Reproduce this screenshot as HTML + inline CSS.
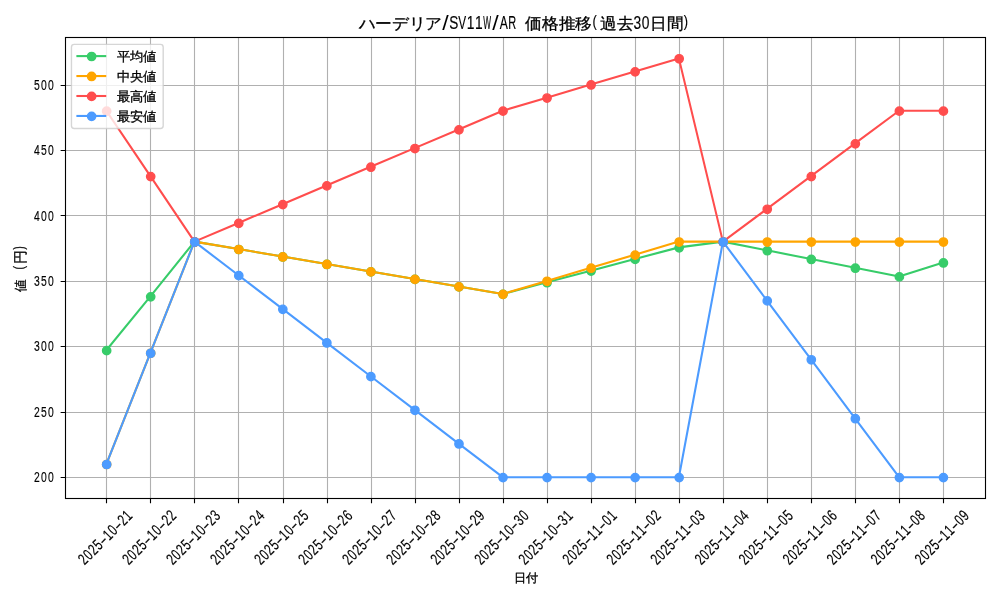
<!DOCTYPE html>
<html><head><meta charset="utf-8"><title>ハーデリア/SV11W/AR 価格推移(過去30日間)</title><style>
html,body{margin:0;padding:0;background:#fff;width:1000px;height:600px;overflow:hidden}
svg{display:block;will-change:transform}
text{font-family:"Liberation Sans",sans-serif;fill:#000;white-space:pre}
.g{stroke:#b0b0b0;stroke-width:1.111;fill:none}
.k{stroke:#000;stroke-width:1.111;fill:none}
.cj{stroke:#000;stroke-width:0.3px}
.la{stroke:#000;stroke-width:0.15px}
</style></head><body>
<svg width="1000" height="600" viewBox="0 0 1000 600">
<rect width="1000" height="600" fill="#fff"/>
<path class="g" d="M106.5 37.50V498.50M150.5 37.50V498.50M194.5 37.50V498.50M238.5 37.50V498.50M283.5 37.50V498.50M327.5 37.50V498.50M371.5 37.50V498.50M415.5 37.50V498.50M459.5 37.50V498.50M503.5 37.50V498.50M547.5 37.50V498.50M591.5 37.50V498.50M635.5 37.50V498.50M679.5 37.50V498.50M723.5 37.50V498.50M767.5 37.50V498.50M811.5 37.50V498.50M855.5 37.50V498.50M899.5 37.50V498.50M943.5 37.50V498.50M65.50 477.5H985.50M65.50 412.5H985.50M65.50 346.5H985.50M65.50 281.5H985.50M65.50 215.5H985.50M65.50 150.5H985.50M65.50 85.5H985.50"/>
<path class="k" d="M106.5 498.50v4.861M150.5 498.50v4.861M194.5 498.50v4.861M238.5 498.50v4.861M283.5 498.50v4.861M327.5 498.50v4.861M371.5 498.50v4.861M415.5 498.50v4.861M459.5 498.50v4.861M503.5 498.50v4.861M547.5 498.50v4.861M591.5 498.50v4.861M635.5 498.50v4.861M679.5 498.50v4.861M723.5 498.50v4.861M767.5 498.50v4.861M811.5 498.50v4.861M855.5 498.50v4.861M899.5 498.50v4.861M943.5 498.50v4.861M65.50 477.5h-4.861M65.50 412.5h-4.861M65.50 346.5h-4.861M65.50 281.5h-4.861M65.50 215.5h-4.861M65.50 150.5h-4.861M65.50 85.5h-4.861"/>
<g clip-path="none">
<polyline points="106.36,350.25 150.40,296.45 194.44,241.62 238.48,249.09 282.52,256.57 326.56,264.05 370.60,271.53 414.64,279.01 458.68,286.49 502.72,293.97 546.76,282.32 590.80,270.67 634.84,259.02 678.88,247.37 722.92,241.62 766.96,250.35 811.00,259.06 855.04,267.79 899.08,276.52 943.12,262.56" fill="none" stroke="#37cc69" stroke-width="2.083" stroke-linejoin="round" stroke-linecap="square"/>
<g fill="#37cc69" stroke="#37cc69" stroke-width="1.389"><circle cx="106.66" cy="350.65" r="4.167"/><circle cx="150.70" cy="296.85" r="4.167"/><circle cx="194.74" cy="242.02" r="4.167"/><circle cx="238.78" cy="249.49" r="4.167"/><circle cx="282.82" cy="256.97" r="4.167"/><circle cx="326.86" cy="264.45" r="4.167"/><circle cx="370.90" cy="271.93" r="4.167"/><circle cx="414.94" cy="279.41" r="4.167"/><circle cx="458.98" cy="286.89" r="4.167"/><circle cx="503.02" cy="294.37" r="4.167"/><circle cx="547.06" cy="282.72" r="4.167"/><circle cx="591.10" cy="271.07" r="4.167"/><circle cx="635.14" cy="259.42" r="4.167"/><circle cx="679.18" cy="247.77" r="4.167"/><circle cx="723.22" cy="242.02" r="4.167"/><circle cx="767.26" cy="250.75" r="4.167"/><circle cx="811.30" cy="259.46" r="4.167"/><circle cx="855.34" cy="268.19" r="4.167"/><circle cx="899.38" cy="276.92" r="4.167"/><circle cx="943.42" cy="262.96" r="4.167"/></g>
<polyline points="106.36,464.11 150.40,352.86 194.44,241.62 238.48,249.09 282.52,256.57 326.56,264.05 370.60,271.53 414.64,279.01 458.68,286.49 502.72,293.97 546.76,280.88 590.80,267.79 634.84,254.70 678.88,241.62 722.92,241.62 766.96,241.62 811.00,241.62 855.04,241.62 899.08,241.62 943.12,241.62" fill="none" stroke="#ffa500" stroke-width="2.083" stroke-linejoin="round" stroke-linecap="square"/>
<g fill="#ffa500" stroke="#ffa500" stroke-width="1.389"><circle cx="106.66" cy="464.51" r="4.167"/><circle cx="150.70" cy="353.26" r="4.167"/><circle cx="194.74" cy="242.02" r="4.167"/><circle cx="238.78" cy="249.49" r="4.167"/><circle cx="282.82" cy="256.97" r="4.167"/><circle cx="326.86" cy="264.45" r="4.167"/><circle cx="370.90" cy="271.93" r="4.167"/><circle cx="414.94" cy="279.41" r="4.167"/><circle cx="458.98" cy="286.89" r="4.167"/><circle cx="503.02" cy="294.37" r="4.167"/><circle cx="547.06" cy="281.28" r="4.167"/><circle cx="591.10" cy="268.19" r="4.167"/><circle cx="635.14" cy="255.10" r="4.167"/><circle cx="679.18" cy="242.02" r="4.167"/><circle cx="723.22" cy="242.02" r="4.167"/><circle cx="767.26" cy="242.02" r="4.167"/><circle cx="811.30" cy="242.02" r="4.167"/><circle cx="855.34" cy="242.02" r="4.167"/><circle cx="899.38" cy="242.02" r="4.167"/><circle cx="943.42" cy="242.02" r="4.167"/></g>
<polyline points="106.36,110.74 150.40,176.18 194.44,241.62 238.48,222.92 282.52,204.22 326.56,185.52 370.60,166.83 414.64,148.13 458.68,129.43 502.72,110.74 546.76,97.65 590.80,84.56 634.84,71.47 678.88,58.38 722.92,241.62 766.96,208.90 811.00,176.18 855.04,143.46 899.08,110.74 943.12,110.74" fill="none" stroke="#ff4d4d" stroke-width="2.083" stroke-linejoin="round" stroke-linecap="square"/>
<g fill="#ff4d4d" stroke="#ff4d4d" stroke-width="1.389"><circle cx="106.66" cy="111.14" r="4.167"/><circle cx="150.70" cy="176.58" r="4.167"/><circle cx="194.74" cy="242.02" r="4.167"/><circle cx="238.78" cy="223.32" r="4.167"/><circle cx="282.82" cy="204.62" r="4.167"/><circle cx="326.86" cy="185.92" r="4.167"/><circle cx="370.90" cy="167.23" r="4.167"/><circle cx="414.94" cy="148.53" r="4.167"/><circle cx="458.98" cy="129.83" r="4.167"/><circle cx="503.02" cy="111.14" r="4.167"/><circle cx="547.06" cy="98.05" r="4.167"/><circle cx="591.10" cy="84.96" r="4.167"/><circle cx="635.14" cy="71.87" r="4.167"/><circle cx="679.18" cy="58.78" r="4.167"/><circle cx="723.22" cy="242.02" r="4.167"/><circle cx="767.26" cy="209.30" r="4.167"/><circle cx="811.30" cy="176.58" r="4.167"/><circle cx="855.34" cy="143.86" r="4.167"/><circle cx="899.38" cy="111.14" r="4.167"/><circle cx="943.42" cy="111.14" r="4.167"/></g>
<polyline points="106.36,464.11 150.40,352.86 194.44,241.62 238.48,275.27 282.52,308.93 326.56,342.58 370.60,376.24 414.64,409.89 458.68,443.55 502.72,477.20 546.76,477.20 590.80,477.20 634.84,477.20 678.88,477.20 722.92,241.62 766.96,300.51 811.00,359.41 855.04,418.30 899.08,477.20 943.12,477.20" fill="none" stroke="#4c9bff" stroke-width="2.083" stroke-linejoin="round" stroke-linecap="square"/>
<g fill="#4c9bff" stroke="#4c9bff" stroke-width="1.389"><circle cx="106.66" cy="464.51" r="4.167"/><circle cx="150.70" cy="353.26" r="4.167"/><circle cx="194.74" cy="242.02" r="4.167"/><circle cx="238.78" cy="275.67" r="4.167"/><circle cx="282.82" cy="309.33" r="4.167"/><circle cx="326.86" cy="342.98" r="4.167"/><circle cx="370.90" cy="376.64" r="4.167"/><circle cx="414.94" cy="410.29" r="4.167"/><circle cx="458.98" cy="443.95" r="4.167"/><circle cx="503.02" cy="477.60" r="4.167"/><circle cx="547.06" cy="477.60" r="4.167"/><circle cx="591.10" cy="477.60" r="4.167"/><circle cx="635.14" cy="477.60" r="4.167"/><circle cx="679.18" cy="477.60" r="4.167"/><circle cx="723.22" cy="242.02" r="4.167"/><circle cx="767.26" cy="300.91" r="4.167"/><circle cx="811.30" cy="359.81" r="4.167"/><circle cx="855.34" cy="418.70" r="4.167"/><circle cx="899.38" cy="477.60" r="4.167"/><circle cx="943.42" cy="477.60" r="4.167"/></g>
</g>
<rect class="k" x="65.50" y="37.50" width="920.00" height="461.00" stroke-linecap="square"/>
<rect x="71.46" y="44.39" width="91.74" height="84.11" rx="2.78" ry="2.78" fill="#fff" fill-opacity="0.8" stroke="#ccc" stroke-opacity="0.8" stroke-width="1.389"/>
<path d="M77.42 56.10H105.20" stroke="#37cc69" stroke-width="2.083" stroke-linecap="square"/><circle cx="91.61" cy="56.50" r="4.167" fill="#37cc69" stroke="#37cc69" stroke-width="1.389"/>
<text x="116.70" y="61.10" font-size="13.30" textLength="39.90" lengthAdjust="spacingAndGlyphs" class="cj">平均値</text>
<path d="M77.42 76.05H105.20" stroke="#ffa500" stroke-width="2.083" stroke-linecap="square"/><circle cx="91.61" cy="76.45" r="4.167" fill="#ffa500" stroke="#ffa500" stroke-width="1.389"/>
<text x="116.70" y="81.05" font-size="13.30" textLength="39.90" lengthAdjust="spacingAndGlyphs" class="cj">中央値</text>
<path d="M77.42 96.00H105.20" stroke="#ff4d4d" stroke-width="2.083" stroke-linecap="square"/><circle cx="91.61" cy="96.40" r="4.167" fill="#ff4d4d" stroke="#ff4d4d" stroke-width="1.389"/>
<text x="116.70" y="101.00" font-size="13.30" textLength="39.90" lengthAdjust="spacingAndGlyphs" class="cj">最高値</text>
<path d="M77.42 115.95H105.20" stroke="#4c9bff" stroke-width="2.083" stroke-linecap="square"/><circle cx="91.61" cy="116.35" r="4.167" fill="#4c9bff" stroke="#4c9bff" stroke-width="1.389"/>
<text x="116.70" y="120.95" font-size="13.30" textLength="39.90" lengthAdjust="spacingAndGlyphs" class="cj">最安値</text>
<text transform="scale(0.6700,1)" x="50.82 61.19 71.55" y="482.30" font-size="15.50" class="la">200</text>
<text transform="scale(0.6700,1)" x="50.82 61.19 71.55" y="416.86" font-size="15.50" class="la">250</text>
<text transform="scale(0.6700,1)" x="50.82 61.19 71.55" y="351.42" font-size="15.50" class="la">300</text>
<text transform="scale(0.6700,1)" x="50.82 61.19 71.55" y="285.98" font-size="15.50" class="la">350</text>
<text transform="scale(0.6700,1)" x="50.82 61.19 71.55" y="220.54" font-size="15.50" class="la">400</text>
<text transform="scale(0.6700,1)" x="50.82 61.19 71.55" y="155.10" font-size="15.50" class="la">450</text>
<text transform="scale(0.6700,1)" x="50.82 61.19 71.55" y="89.66" font-size="15.50" class="la">500</text>
<g id="xt0" transform="translate(84.39,565.77) rotate(-45)"><text transform="scale(0.7200,1)" x="0.40 10.05 19.69 29.34" y="0.00" font-size="15.90" class="la">2025</text><text transform="scale(1.3500,1)" x="20.50" y="0.00" font-size="15.90" class="la">-</text><text transform="scale(0.7200,1)" x="48.63 58.27" y="0.00" font-size="15.90" class="la">10</text><text transform="scale(1.3500,1)" x="35.93" y="0.00" font-size="15.90" class="la">-</text><text transform="scale(0.7200,1)" x="77.56 87.21" y="0.00" font-size="15.90" class="la">21</text></g>
<g id="xt1" transform="translate(128.43,565.77) rotate(-45)"><text transform="scale(0.7200,1)" x="0.40 10.05 19.69 29.34" y="0.00" font-size="15.90" class="la">2025</text><text transform="scale(1.3500,1)" x="20.50" y="0.00" font-size="15.90" class="la">-</text><text transform="scale(0.7200,1)" x="48.63 58.27" y="0.00" font-size="15.90" class="la">10</text><text transform="scale(1.3500,1)" x="35.93" y="0.00" font-size="15.90" class="la">-</text><text transform="scale(0.7200,1)" x="77.56 87.21" y="0.00" font-size="15.90" class="la">22</text></g>
<g id="xt2" transform="translate(172.47,565.77) rotate(-45)"><text transform="scale(0.7200,1)" x="0.40 10.05 19.69 29.34" y="0.00" font-size="15.90" class="la">2025</text><text transform="scale(1.3500,1)" x="20.50" y="0.00" font-size="15.90" class="la">-</text><text transform="scale(0.7200,1)" x="48.63 58.27" y="0.00" font-size="15.90" class="la">10</text><text transform="scale(1.3500,1)" x="35.93" y="0.00" font-size="15.90" class="la">-</text><text transform="scale(0.7200,1)" x="77.56 87.21" y="0.00" font-size="15.90" class="la">23</text></g>
<g id="xt3" transform="translate(216.51,565.77) rotate(-45)"><text transform="scale(0.7200,1)" x="0.40 10.05 19.69 29.34" y="0.00" font-size="15.90" class="la">2025</text><text transform="scale(1.3500,1)" x="20.50" y="0.00" font-size="15.90" class="la">-</text><text transform="scale(0.7200,1)" x="48.63 58.27" y="0.00" font-size="15.90" class="la">10</text><text transform="scale(1.3500,1)" x="35.93" y="0.00" font-size="15.90" class="la">-</text><text transform="scale(0.7200,1)" x="77.56 87.21" y="0.00" font-size="15.90" class="la">24</text></g>
<g id="xt4" transform="translate(260.55,565.77) rotate(-45)"><text transform="scale(0.7200,1)" x="0.40 10.05 19.69 29.34" y="0.00" font-size="15.90" class="la">2025</text><text transform="scale(1.3500,1)" x="20.50" y="0.00" font-size="15.90" class="la">-</text><text transform="scale(0.7200,1)" x="48.63 58.27" y="0.00" font-size="15.90" class="la">10</text><text transform="scale(1.3500,1)" x="35.93" y="0.00" font-size="15.90" class="la">-</text><text transform="scale(0.7200,1)" x="77.56 87.21" y="0.00" font-size="15.90" class="la">25</text></g>
<g id="xt5" transform="translate(304.59,565.77) rotate(-45)"><text transform="scale(0.7200,1)" x="0.40 10.05 19.69 29.34" y="0.00" font-size="15.90" class="la">2025</text><text transform="scale(1.3500,1)" x="20.50" y="0.00" font-size="15.90" class="la">-</text><text transform="scale(0.7200,1)" x="48.63 58.27" y="0.00" font-size="15.90" class="la">10</text><text transform="scale(1.3500,1)" x="35.93" y="0.00" font-size="15.90" class="la">-</text><text transform="scale(0.7200,1)" x="77.56 87.21" y="0.00" font-size="15.90" class="la">26</text></g>
<g id="xt6" transform="translate(348.63,565.77) rotate(-45)"><text transform="scale(0.7200,1)" x="0.40 10.05 19.69 29.34" y="0.00" font-size="15.90" class="la">2025</text><text transform="scale(1.3500,1)" x="20.50" y="0.00" font-size="15.90" class="la">-</text><text transform="scale(0.7200,1)" x="48.63 58.27" y="0.00" font-size="15.90" class="la">10</text><text transform="scale(1.3500,1)" x="35.93" y="0.00" font-size="15.90" class="la">-</text><text transform="scale(0.7200,1)" x="77.56 87.21" y="0.00" font-size="15.90" class="la">27</text></g>
<g id="xt7" transform="translate(392.67,565.77) rotate(-45)"><text transform="scale(0.7200,1)" x="0.40 10.05 19.69 29.34" y="0.00" font-size="15.90" class="la">2025</text><text transform="scale(1.3500,1)" x="20.50" y="0.00" font-size="15.90" class="la">-</text><text transform="scale(0.7200,1)" x="48.63 58.27" y="0.00" font-size="15.90" class="la">10</text><text transform="scale(1.3500,1)" x="35.93" y="0.00" font-size="15.90" class="la">-</text><text transform="scale(0.7200,1)" x="77.56 87.21" y="0.00" font-size="15.90" class="la">28</text></g>
<g id="xt8" transform="translate(436.71,565.77) rotate(-45)"><text transform="scale(0.7200,1)" x="0.40 10.05 19.69 29.34" y="0.00" font-size="15.90" class="la">2025</text><text transform="scale(1.3500,1)" x="20.50" y="0.00" font-size="15.90" class="la">-</text><text transform="scale(0.7200,1)" x="48.63 58.27" y="0.00" font-size="15.90" class="la">10</text><text transform="scale(1.3500,1)" x="35.93" y="0.00" font-size="15.90" class="la">-</text><text transform="scale(0.7200,1)" x="77.56 87.21" y="0.00" font-size="15.90" class="la">29</text></g>
<g id="xt9" transform="translate(480.75,565.77) rotate(-45)"><text transform="scale(0.7200,1)" x="0.40 10.05 19.69 29.34" y="0.00" font-size="15.90" class="la">2025</text><text transform="scale(1.3500,1)" x="20.50" y="0.00" font-size="15.90" class="la">-</text><text transform="scale(0.7200,1)" x="48.63 58.27" y="0.00" font-size="15.90" class="la">10</text><text transform="scale(1.3500,1)" x="35.93" y="0.00" font-size="15.90" class="la">-</text><text transform="scale(0.7200,1)" x="77.56 87.21" y="0.00" font-size="15.90" class="la">30</text></g>
<g id="xt10" transform="translate(524.79,565.77) rotate(-45)"><text transform="scale(0.7200,1)" x="0.40 10.05 19.69 29.34" y="0.00" font-size="15.90" class="la">2025</text><text transform="scale(1.3500,1)" x="20.50" y="0.00" font-size="15.90" class="la">-</text><text transform="scale(0.7200,1)" x="48.63 58.27" y="0.00" font-size="15.90" class="la">10</text><text transform="scale(1.3500,1)" x="35.93" y="0.00" font-size="15.90" class="la">-</text><text transform="scale(0.7200,1)" x="77.56 87.21" y="0.00" font-size="15.90" class="la">31</text></g>
<g id="xt11" transform="translate(568.83,565.77) rotate(-45)"><text transform="scale(0.7200,1)" x="0.40 10.05 19.69 29.34" y="0.00" font-size="15.90" class="la">2025</text><text transform="scale(1.3500,1)" x="20.50" y="0.00" font-size="15.90" class="la">-</text><text transform="scale(0.7200,1)" x="48.63 58.27" y="0.00" font-size="15.90" class="la">11</text><text transform="scale(1.3500,1)" x="35.93" y="0.00" font-size="15.90" class="la">-</text><text transform="scale(0.7200,1)" x="77.56 87.21" y="0.00" font-size="15.90" class="la">01</text></g>
<g id="xt12" transform="translate(612.87,565.77) rotate(-45)"><text transform="scale(0.7200,1)" x="0.40 10.05 19.69 29.34" y="0.00" font-size="15.90" class="la">2025</text><text transform="scale(1.3500,1)" x="20.50" y="0.00" font-size="15.90" class="la">-</text><text transform="scale(0.7200,1)" x="48.63 58.27" y="0.00" font-size="15.90" class="la">11</text><text transform="scale(1.3500,1)" x="35.93" y="0.00" font-size="15.90" class="la">-</text><text transform="scale(0.7200,1)" x="77.56 87.21" y="0.00" font-size="15.90" class="la">02</text></g>
<g id="xt13" transform="translate(656.91,565.77) rotate(-45)"><text transform="scale(0.7200,1)" x="0.40 10.05 19.69 29.34" y="0.00" font-size="15.90" class="la">2025</text><text transform="scale(1.3500,1)" x="20.50" y="0.00" font-size="15.90" class="la">-</text><text transform="scale(0.7200,1)" x="48.63 58.27" y="0.00" font-size="15.90" class="la">11</text><text transform="scale(1.3500,1)" x="35.93" y="0.00" font-size="15.90" class="la">-</text><text transform="scale(0.7200,1)" x="77.56 87.21" y="0.00" font-size="15.90" class="la">03</text></g>
<g id="xt14" transform="translate(700.95,565.77) rotate(-45)"><text transform="scale(0.7200,1)" x="0.40 10.05 19.69 29.34" y="0.00" font-size="15.90" class="la">2025</text><text transform="scale(1.3500,1)" x="20.50" y="0.00" font-size="15.90" class="la">-</text><text transform="scale(0.7200,1)" x="48.63 58.27" y="0.00" font-size="15.90" class="la">11</text><text transform="scale(1.3500,1)" x="35.93" y="0.00" font-size="15.90" class="la">-</text><text transform="scale(0.7200,1)" x="77.56 87.21" y="0.00" font-size="15.90" class="la">04</text></g>
<g id="xt15" transform="translate(744.99,565.77) rotate(-45)"><text transform="scale(0.7200,1)" x="0.40 10.05 19.69 29.34" y="0.00" font-size="15.90" class="la">2025</text><text transform="scale(1.3500,1)" x="20.50" y="0.00" font-size="15.90" class="la">-</text><text transform="scale(0.7200,1)" x="48.63 58.27" y="0.00" font-size="15.90" class="la">11</text><text transform="scale(1.3500,1)" x="35.93" y="0.00" font-size="15.90" class="la">-</text><text transform="scale(0.7200,1)" x="77.56 87.21" y="0.00" font-size="15.90" class="la">05</text></g>
<g id="xt16" transform="translate(789.03,565.77) rotate(-45)"><text transform="scale(0.7200,1)" x="0.40 10.05 19.69 29.34" y="0.00" font-size="15.90" class="la">2025</text><text transform="scale(1.3500,1)" x="20.50" y="0.00" font-size="15.90" class="la">-</text><text transform="scale(0.7200,1)" x="48.63 58.27" y="0.00" font-size="15.90" class="la">11</text><text transform="scale(1.3500,1)" x="35.93" y="0.00" font-size="15.90" class="la">-</text><text transform="scale(0.7200,1)" x="77.56 87.21" y="0.00" font-size="15.90" class="la">06</text></g>
<g id="xt17" transform="translate(833.07,565.77) rotate(-45)"><text transform="scale(0.7200,1)" x="0.40 10.05 19.69 29.34" y="0.00" font-size="15.90" class="la">2025</text><text transform="scale(1.3500,1)" x="20.50" y="0.00" font-size="15.90" class="la">-</text><text transform="scale(0.7200,1)" x="48.63 58.27" y="0.00" font-size="15.90" class="la">11</text><text transform="scale(1.3500,1)" x="35.93" y="0.00" font-size="15.90" class="la">-</text><text transform="scale(0.7200,1)" x="77.56 87.21" y="0.00" font-size="15.90" class="la">07</text></g>
<g id="xt18" transform="translate(877.11,565.77) rotate(-45)"><text transform="scale(0.7200,1)" x="0.40 10.05 19.69 29.34" y="0.00" font-size="15.90" class="la">2025</text><text transform="scale(1.3500,1)" x="20.50" y="0.00" font-size="15.90" class="la">-</text><text transform="scale(0.7200,1)" x="48.63 58.27" y="0.00" font-size="15.90" class="la">11</text><text transform="scale(1.3500,1)" x="35.93" y="0.00" font-size="15.90" class="la">-</text><text transform="scale(0.7200,1)" x="77.56 87.21" y="0.00" font-size="15.90" class="la">08</text></g>
<g id="xt19" transform="translate(921.15,565.77) rotate(-45)"><text transform="scale(0.7200,1)" x="0.40 10.05 19.69 29.34" y="0.00" font-size="15.90" class="la">2025</text><text transform="scale(1.3500,1)" x="20.50" y="0.00" font-size="15.90" class="la">-</text><text transform="scale(0.7200,1)" x="48.63 58.27" y="0.00" font-size="15.90" class="la">11</text><text transform="scale(1.3500,1)" x="35.93" y="0.00" font-size="15.90" class="la">-</text><text transform="scale(0.7200,1)" x="77.56 87.21" y="0.00" font-size="15.90" class="la">09</text></g>
<g id="title"><text x="358.67" y="28.90" font-size="16.20" textLength="83.33" lengthAdjust="spacingAndGlyphs" class="cj">ハーデリア</text><text transform="scale(1.1000,1)" x="402.15" y="30.40" font-size="21.00">/</text><text transform="scale(0.7400,1)" x="607.25" y="28.90" font-size="18.40" class="la">S</text><text transform="scale(0.6400,1)" x="716.11" y="28.90" font-size="18.40" class="la">V</text><text transform="scale(0.7500,1)" x="622.31 633.42" y="28.90" font-size="18.40" class="la">11</text><text transform="scale(0.4500,1)" x="1074.07" y="28.90" font-size="18.40" class="la">W</text><text transform="scale(1.1000,1)" x="447.60" y="30.40" font-size="21.00">/</text><text transform="scale(0.6600,1)" x="757.36" y="28.90" font-size="18.40" class="la">A</text><text transform="scale(0.6000,1)" x="847.09" y="28.90" font-size="18.40" class="la">R</text><text transform="scale(0.7500,1)" x="691.54" y="28.90" font-size="18.40" class="la"> </text><text x="525.34" y="28.90" font-size="16.20" textLength="66.67" lengthAdjust="spacingAndGlyphs" class="cj">価格推移</text><text transform="scale(0.8000,1)" x="740.66" y="27.20" font-size="16.10" class="la">(</text><text x="600.34" y="28.90" font-size="16.20" textLength="33.33" lengthAdjust="spacingAndGlyphs" class="cj">過去</text><text transform="scale(0.7500,1)" x="844.53 855.65" y="28.90" font-size="18.40" class="la">30</text><text x="650.34" y="28.90" font-size="16.20" textLength="33.33" lengthAdjust="spacingAndGlyphs" class="cj">日間</text><text transform="scale(0.8000,1)" x="854.62" y="27.20" font-size="16.10" class="la">)</text></g>
<text x="514.20" y="582.00" font-size="12.20" textLength="24.40" lengthAdjust="spacingAndGlyphs" class="cj">日付</text>
<g transform="translate(25.0,267.79) rotate(-90)"><g id="yl1"><text x="-24.20" y="-0.20" font-size="12.60" textLength="12.60" lengthAdjust="spacingAndGlyphs" class="cj">値</text></g><g id="yl2"><text transform="scale(0.7200,1)" x="-11.67 -2.42" y="-1.40" font-size="14.60" class="la"> (</text></g><g id="yl3"><text x="3.48" y="0.00" font-size="13.89" textLength="13.89" lengthAdjust="spacingAndGlyphs" class="cj">円</text></g><g id="yl4"><text transform="scale(0.7200,1)" x="25.12" y="-1.40" font-size="14.60" class="la">)</text></g></g>
</svg>
</body></html>
